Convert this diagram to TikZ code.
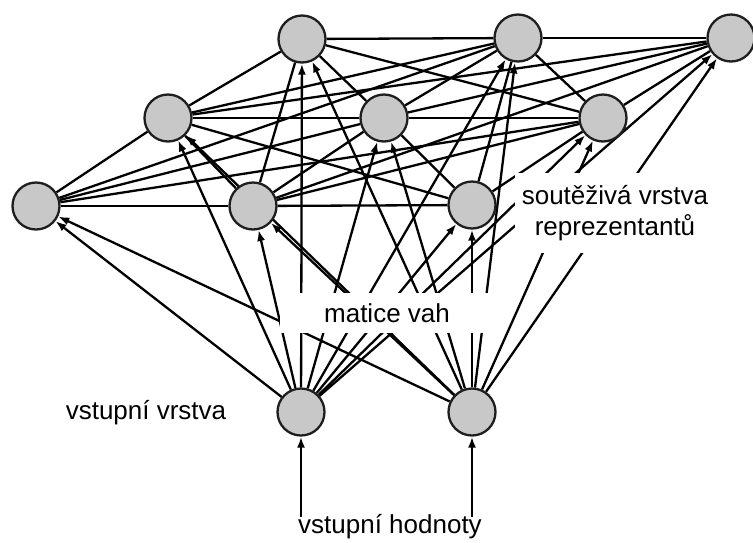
\documentclass[tikz,border=0pt]{standalone}
\usepackage{fontspec}
\setmainfont{Liberation Sans}
\usetikzlibrary{arrows.meta}
\pgfdeclarelayer{bg}
\pgfsetlayers{bg,main}
\definecolor{nfill}{RGB}{200,200,200}
\definecolor{nline}{RGB}{30,30,30}
\begin{document}
\begin{tikzpicture}[x=1pt,y=-1pt,
  neuron/.style={circle,draw=nline,line width=2.3pt,fill=nfill,minimum size=47pt,inner sep=0pt},
  lat/.style={line width=2.3pt,draw=black},
  inp/.style={line width=2.3pt,draw=black,-{Latex[length=11pt,width=8pt]}},
  lbl/.style={font=\fontsize{26}{31}\selectfont,inner sep=0pt}]
\useasboundingbox (0,0) rectangle (753,542);
% competitive layer
\node[neuron] (c1) at (302,39) {};
\node[neuron] (c2) at (518,38) {};
\node[neuron] (c3) at (731,38) {};
\node[neuron] (c4) at (168,118) {};
\node[neuron] (c5) at (384,118) {};
\node[neuron] (c6) at (603,118) {};
\node[neuron] (c7) at (36,206) {};
\node[neuron] (c8) at (253,206) {};
\node[neuron] (c9) at (472,205) {};
% input layer
\node[neuron] (i1) at (301,412) {};
\node[neuron] (i2) at (472,412) {};
\coordinate (b1) at (301,517);
\coordinate (b2) at (472,517);
\begin{pgfonlayer}{bg}
\foreach \a/\b in {1/2,1/4,1/5,1/6,1/8,
                   2/3,2/4,2/5,2/6,2/7,2/9,
                   3/4,3/5,3/6,3/8,
                   4/5,4/7,4/8,4/9,
                   5/6,5/7,5/8,5/9,
                   6/7,6/8,6/9,
                   7/8,8/9}{
  \draw[lat] (c\a) -- (c\b);
}
\foreach \i in {1,...,9}{
  \draw[inp] (i1) -- (c\i);
  \draw[inp] (i2) -- (c\i);
}
\end{pgfonlayer}
\draw[inp] (b1) -- (i1);
\draw[inp] (b2) -- (i2);
% labels
\node[lbl,fill=white,minimum width=215pt,minimum height=40pt] (mv) at (387,313) {matice vah};
\node[lbl,fill=white,align=center,minimum width=200pt,minimum height=80pt] (sv) at (615,213) {soutěživá vrstva\\reprezentantů};
\node[lbl] (vv) at (146,413) {vstupní vrstva};
\node[lbl] (vh) at (390,527) {vstupní hodnoty};
\end{tikzpicture}
\end{document}
